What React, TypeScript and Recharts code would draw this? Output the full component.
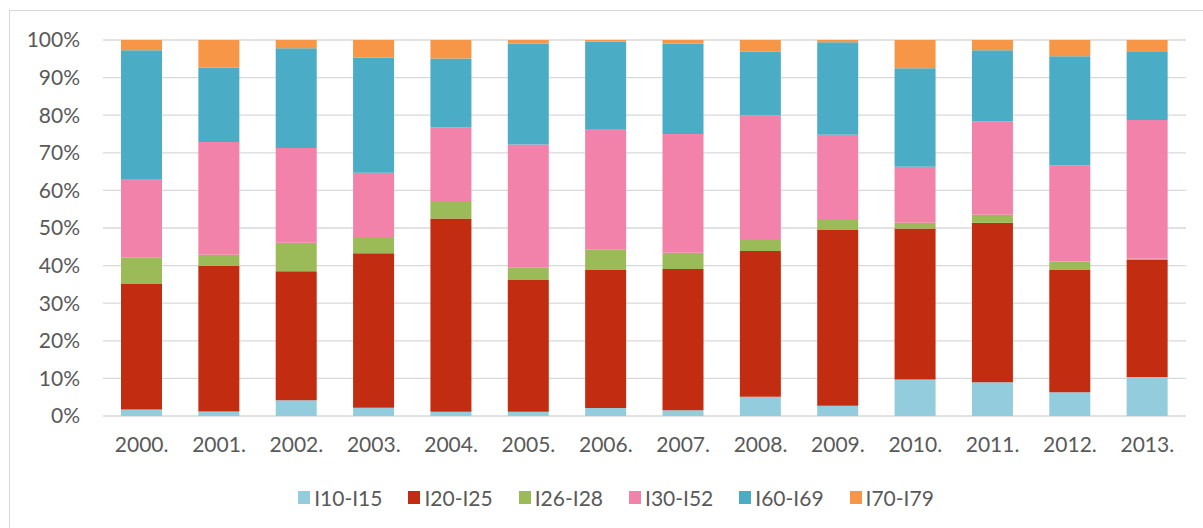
import React from 'react';
import { BarChart, Bar, XAxis, YAxis, CartesianGrid, Legend } from 'recharts';

const years = ['2000.', '2001.', '2002.', '2003.', '2004.', '2005.', '2006.', '2007.', '2008.', '2009.', '2010.', '2011.', '2012.', '2013.'];
const i10_15 = [1.7, 1.2, 4.2, 2.2, 1.1, 1.1, 2.1, 1.5, 5.1, 2.7, 9.7, 9.0, 6.3, 10.4];
const i20_25 = [33.4, 38.7, 34.3, 41.1, 51.4, 35.1, 36.7, 37.6, 38.8, 46.8, 40.2, 42.4, 32.5, 31.2];
const i26_28 = [7.0, 3.0, 7.6, 4.3, 4.7, 3.2, 5.4, 4.3, 2.9, 2.6, 1.5, 2.1, 2.3, 0.2];
const i30_52 = [20.7, 30.0, 25.2, 17.1, 19.6, 32.8, 31.9, 31.6, 33.2, 22.7, 14.9, 24.8, 25.6, 36.9];
const i60_69 = [34.5, 19.7, 26.5, 30.6, 18.3, 26.8, 23.5, 24.1, 16.9, 24.6, 26.2, 19.0, 29.0, 18.3];
const i70_79 = [2.7, 7.4, 2.2, 4.7, 4.9, 1.0, 0.4, 0.9, 3.1, 0.6, 7.5, 2.7, 4.3, 3.0];

const seriesNames = ['I10-I15', 'I20-I25', 'I26-I28', 'I30-I52', 'I60-I69', 'I70-I79'];
const seriesValues = [i10_15, i20_25, i26_28, i30_52, i60_69, i70_79];
const seriesColors = ['#93CDDD', '#C22C10', '#9BBB59', '#F382AB', '#4BACC6', '#F79646'];
const yTicks = [0, 0.1, 0.2, 0.3, 0.4, 0.5, 0.6, 0.7, 0.8, 0.9, 1];

const data = years.map((year, i) => {
  const row: Record<string, string | number> = { year };
  seriesNames.forEach((name, k) => {
    row[name] = seriesValues[k][i];
  });
  return row;
});

const FONT = 'Lato, "Open Sans", sans-serif';
const TEXT = '#595959';

const LegendContent = (props: any) => {
  const payload = props.payload || [];
  return (
    <div
      style={{
        display: 'flex',
        justifyContent: 'center',
        alignItems: 'center',
        height: 40,
        paddingLeft: 46,
        marginTop: 1,
        fontFamily: FONT,
        fontSize: 21,
        color: TEXT,
      }}
    >
      {payload.map((p: any, i: number) => (
        <div
          key={p.value}
          style={{ display: 'flex', alignItems: 'center', marginRight: i === payload.length - 1 ? 0 : 26 }}
        >
          <span style={{ display: 'inline-block', width: 12, height: 13, background: p.color, marginRight: 4 }} />
          <span>{p.value}</span>
        </div>
      ))}
    </div>
  );
};

export default function App() {
  return (
    <div style={{ position: 'absolute', left: 0, top: 0, width: 1203, height: 528, background: '#fff', overflow: 'hidden' }}>
      <div
        style={{
          position: 'absolute',
          left: 9,
          top: 10,
          width: 1205,
          height: 530,
          border: '1px solid #d9d9d9',
          boxSizing: 'border-box',
        }}
      />
      <div style={{ position: 'absolute', left: 0, top: 0 }}>
        <BarChart
          width={1203}
          height={528}
          data={data}
          stackOffset="expand"
          margin={{ top: 40, right: 17, bottom: 12, left: 0 }}
          barSize={41}
          style={{ fontFamily: FONT }}
        >
          <CartesianGrid vertical={false} stroke="#d9d9d9" strokeWidth={1.3} />
          <XAxis
            dataKey="year"
            height={60}
            axisLine={false}
            tickLine={false}
            tickSize={0}
            tickMargin={21}
            tick={{ fill: TEXT, fontSize: 21, fontFamily: FONT }}
            interval={0}
          />
          <YAxis
            width={103}
            domain={[0, 1]}
            ticks={yTicks}
            axisLine={false}
            tickLine={false}
            tickSize={0}
            tickMargin={23}
            tickFormatter={(v: number) => `${Math.round(v * 100)}%`}
            tick={{ fill: TEXT, fontSize: 21, fontFamily: FONT }}
          />
          <Legend verticalAlign="bottom" height={40} content={<LegendContent />} />
          {seriesNames.map((name, k) => (
            <Bar key={name} dataKey={name} stackId="a" fill={seriesColors[k]} isAnimationActive={false} />
          ))}
        </BarChart>
      </div>
    </div>
  );
}
